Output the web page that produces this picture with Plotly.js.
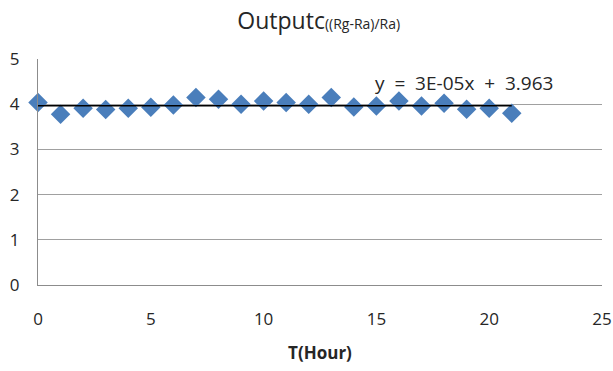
<!DOCTYPE html>
<html><head><meta charset="utf-8">
<script src="https://cdn.plot.ly/plotly-3.0.1.min.js"></script>
<style>body{margin:0;background:#fff}#c{width:613px;height:371px}</style>
</head><body><div id="c"></div>
<script>
const hours = [0,1,2,3,4,5,6,7,8,9,10,11,12,13,14,15,16,17,18,19,20,21];
const output = [4.04,3.78,3.91,3.88,3.91,3.93,3.98,4.15,4.11,4.00,4.07,4.04,4.00,4.15,3.94,3.96,4.07,3.96,4.02,3.89,3.91,3.80];
const slope = 3e-5, intercept = 3.963;
const trendX = [hours[0], hours[hours.length-1]];
const trendY = trendX.map(x => intercept + slope*x);
const xTicks = [0,5,10,15,20,25];
const yTicks = [0,1,2,3,4,5];
const fontFam = '"Open Sans", "Noto Sans", sans-serif';

Plotly.newPlot('c', [
  {x: hours, y: output, type:'scatter', mode:'markers', cliponaxis:false,
   marker:{symbol:'diamond', size:15, color:'#4a7ebb'}},
  {x: trendX, y: trendY, type:'scatter', mode:'lines', cliponaxis:false,
   line:{color:'#000', width:1.5}}
], {
  width:613, height:371, showlegend:false,
  paper_bgcolor:'#fff', plot_bgcolor:'#fff',
  margin:{l:38, r:11, t:59, b:86},
  font:{family:fontFam, color:'#262626', size:17},
  title:{text:'Outputc<span style="font-size:14px">((Rg-Ra)/Ra)</span>', x:0.52, xanchor:'center', y:0.965, yanchor:'top',
         font:{size:23, family:fontFam, color:'#262626'}},
  xaxis:{range:[0,25], tickvals:xTicks, showgrid:false, zeroline:false,
         showline:true, linecolor:'#8c8c8c', linewidth:1, ticks:'', ticklen:0,
         tickfont:{size:17}, ticklabelstandoff:19,
         title:{text:'<b>T(Hour)</b>', font:{size:17}, standoff:17}},
  yaxis:{range:[0,5], tickvals:yTicks, showgrid:true, gridcolor:'#a0a0a0', gridwidth:1,
         zeroline:false, showline:true, linecolor:'#8c8c8c', linewidth:1, ticks:'',
         tickfont:{size:17}, ticklabelstandoff:14},
  annotations:[{text:'y&nbsp;&nbsp;=&nbsp;&nbsp;3E-05x&nbsp;&nbsp;+&nbsp;&nbsp;3.963', x:18.87, y:4.47, xref:'x', yref:'y', showarrow:false,
                xanchor:'center', font:{size:19, color:'#262626'}}]
}, {displayModeBar:false, staticPlot:true});
</script></body></html>
